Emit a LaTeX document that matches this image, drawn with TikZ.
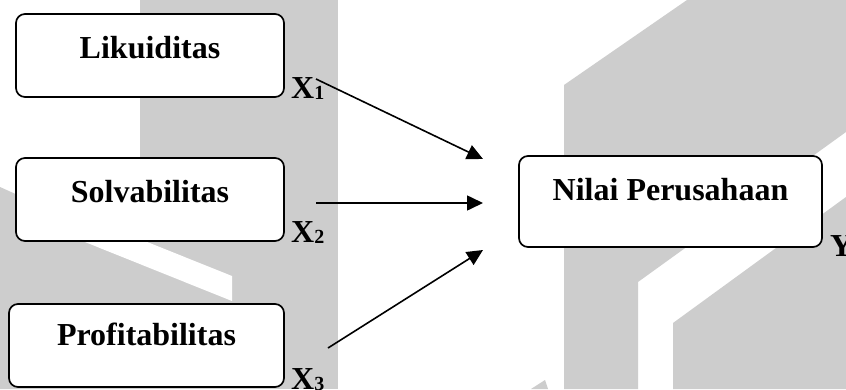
\documentclass[tikz,border=0pt]{standalone}
\usepackage{fontspec}
\setmainfont{Liberation Serif}
\usetikzlibrary{arrows.meta}
\definecolor{wm}{RGB}{205,205,205}
\newcommand\subdig[1]{{\fontsize{20}{20}\selectfont\raisebox{-1pt}{#1}}}
\begin{document}
\begin{tikzpicture}[x=1pt,y=-1pt,
  varbox/.style={draw=black, line width=1.7pt, rounded corners=9pt, fill=white,
    inner sep=0pt, anchor=base, font=\bfseries\fontsize{32}{38}\selectfont},
  sublab/.style={inner sep=0pt, anchor=base west, font=\bfseries\fontsize{32}{38}\selectfont},
  link/.style={line width=1.6pt, -{Triangle[length=16pt,width=15pt]}},
  wmark/.style={fill=wm, draw=none}]
\useasboundingbox (0,0) rectangle (846,389);
\clip (0,0) rectangle (846,389);
\fill[white] (0,0) rectangle (846,389);
% watermark shapes
\fill[wmark] (0,187) -- (140,250) -- (140,389) -- (0,389) -- cycle;
\fill[wmark] (140,0) rectangle (338,389);
\fill[white] (60,207) -- (232,276) -- (232,301) -- (60,232) -- cycle;
\fill[wmark] (564,85) -- (687,0) -- (846,0) -- (846,132) -- (638,282) -- (638,389) -- (564,389) -- cycle;
\fill[wmark] (673,323) -- (846,197) -- (846,389) -- (673,389) -- cycle;
\fill[wmark] (531,389) -- (545,380) -- (548,389) -- cycle;
% boxes
\node[varbox, minimum width=268pt, text height=44pt, text depth=39pt] (liq) at (150,58) {Likuiditas};
\node[varbox, minimum width=268pt, text height=44pt, text depth=39pt] (sol) at (150,202) {Solvabilitas};
\node[varbox, minimum width=275pt, text height=41pt, text depth=42pt] (pro) at (146.5,345) {Profitabilitas};
\node[varbox, minimum width=303pt, text height=44pt, text depth=47pt] (nil) at (670.5,200) {Nilai Perusahaan};
% labels
\node[sublab] (x1) at (291,98) {X\subdig{1}};
\node[sublab] (x2) at (291,242) {X\subdig{2}};
\node[sublab] (x3) at (291,389) {X\subdig{3}};
\node[sublab] (yl) at (830,256) {Y};
% arrows
\coordinate (s1) at (316,79);
\coordinate (e1) at (483,159);
\coordinate (s2) at (316,203);
\coordinate (e2) at (483,203);
\coordinate (s3) at (328,348);
\coordinate (e3) at (483,250);
\draw[link] (s1) -- (e1);
\draw[link] (s2) -- (e2);
\draw[link] (s3) -- (e3);
\end{tikzpicture}
\end{document}
